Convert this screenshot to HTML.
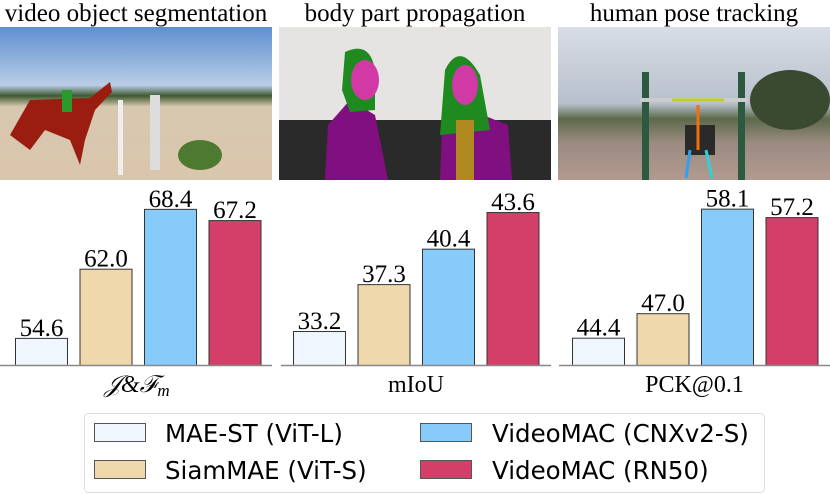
<!DOCTYPE html>
<html><head><meta charset="utf-8"><style>
body{margin:0;background:#fff;}
svg{display:block;font-family:"Liberation Serif",serif;}
</style></head><body>
<svg width="830" height="494" viewBox="0 0 830 494">
<defs>
<linearGradient id="g1" x1="0" y1="0" x2="0" y2="1"><stop offset="0" stop-color="#5f8fd0"/><stop offset="0.38" stop-color="#b9cde6"/><stop offset="0.45" stop-color="#3d5a32"/><stop offset="0.52" stop-color="#d8c8b0"/><stop offset="1" stop-color="#d9c6ac"/></linearGradient>
<linearGradient id="g3" x1="0" y1="0" x2="0" y2="1"><stop offset="0" stop-color="#d8dde6"/><stop offset="0.5" stop-color="#b8c0cc"/><stop offset="0.6" stop-color="#5c6a4a"/><stop offset="0.75" stop-color="#9a8a80"/><stop offset="1" stop-color="#b29a90"/></linearGradient>
</defs>
<g font-size="25" text-anchor="middle" fill="#000">
<text x="136" y="21">video object segmentation</text>
<text x="415" y="21">body part propagation</text>
<text x="694" y="21">human pose tracking</text>
</g>
<g>
<rect x="0" y="27" width="272" height="153" fill="url(#g1)"/>
<path d="M10 135 L30 100 L90 98 L110 82 L112 92 L95 110 L85 140 L80 165 L70 140 L45 130 L30 150 Z" fill="#9a1d10"/>
<rect x="62" y="90" width="10" height="22" fill="#2a9a2a"/>
<rect x="118" y="100" width="5" height="75" fill="#eee"/><rect x="150" y="95" width="10" height="75" fill="#ddd"/>
<ellipse cx="200" cy="155" rx="22" ry="15" fill="#4d7a30"/>
</g>
<g>
<rect x="279" y="27" width="272" height="153" fill="#e6e4e2"/>
<rect x="279" y="120" width="272" height="60" fill="#2a2a2a"/>
<path d="M325 180 L328 125 L350 100 L375 115 L388 180 Z" fill="#800f80"/>
<path d="M345 52 Q370 40 375 70 L375 110 L350 112 L342 90 Z" fill="#1f8a1f"/>
<ellipse cx="365" cy="80" rx="14" ry="20" fill="#d13aa5"/>
<path d="M440 180 L442 125 L470 110 L508 125 L512 180 Z" fill="#800f80"/>
<path d="M445 70 Q460 40 480 75 L490 130 L440 135 Z" fill="#1f8a1f"/>
<ellipse cx="465" cy="85" rx="13" ry="20" fill="#d13aa5"/>
<rect x="456" y="120" width="18" height="60" fill="#b08a20"/>
</g>
<g>
<rect x="558" y="27" width="272" height="153" fill="url(#g3)"/>
<rect x="642" y="72" width="7" height="108" fill="#2c5a40"/><rect x="738" y="72" width="7" height="108" fill="#2c5a40"/>
<rect x="640" y="98" width="108" height="4" fill="#ccc"/>
<ellipse cx="790" cy="100" rx="40" ry="30" fill="#3a4a30"/>
<rect x="685" y="125" width="30" height="30" fill="#2a2a2a"/>
<line x1="698" y1="105" x2="698" y2="150" stroke="#f07010" stroke-width="3"/>
<line x1="672" y1="100" x2="724" y2="100" stroke="#c0d020" stroke-width="3"/>
<line x1="690" y1="150" x2="686" y2="178" stroke="#30a0f0" stroke-width="3"/>
<line x1="706" y1="150" x2="712" y2="178" stroke="#30d0d0" stroke-width="3"/>
</g>
<g id="charts"></g>
<g>
<rect x="84.5" y="413.5" width="680" height="79" rx="4" fill="#fff" stroke="#ddd"/>
<g font-family="DejaVu Sans, sans-serif" font-size="24.5" fill="#000">
<rect x="94.5" y="423.5" width="51" height="18" fill="#eff6fe" stroke="#555"/>
<text x="165" y="442">MAE-ST (ViT-L)</text>
<rect x="94.5" y="460.5" width="51" height="18" fill="#eed8ac" stroke="#555"/>
<text x="165" y="479">SiamMAE (ViT-S)</text>
<rect x="420.5" y="423.5" width="51" height="18" fill="#87cbfb" stroke="#555"/>
<text x="492" y="442">VideoMAC (CNXv2-S)</text>
<rect x="420.5" y="460.5" width="51" height="18" fill="#d43f6a" stroke="#555"/>
<text x="492" y="479">VideoMAC (RN50)</text>
</g>
</g>
</svg>
<script>
const series = ["MAE-ST (ViT-L)","SiamMAE (ViT-S)","VideoMAC (CNXv2-S)","VideoMAC (RN50)"];
const vosValues = [54.6, 62.0, 68.4, 67.2];
const bodyValues = [33.2, 37.3, 40.4, 43.6];
const poseValues = [44.4, 47.0, 58.1, 57.2];
const metricLabels = ["J&Fm","mIoU","PCK@0.1"];
const colors = ["#eff6fe","#eed8ac","#87cbfb","#d43f6a"];
const NS="http://www.w3.org/2000/svg";
const g=document.getElementById('charts');
const panels=[
 {vals:vosValues, x0:0, x1:272, bx:15, base:51.7, ppu:9.35, name:'vos'},
 {vals:bodyValues, x0:281, x1:551, bx:293, base:30.23, ppu:11.44, name:'body-part'},
 {vals:poseValues, x0:559, x1:830, bx:572, base:41.5, ppu:9.42, name:'pose'}
];
const baseY=365, step=64.5, bw=52;
panels.forEach((p,pi)=>{
  const y=v=>baseY-(v-p.base)*p.ppu;
  p.vals.forEach((v,i)=>{
    const x=p.bx+i*step, top=y(v);
    const r=document.createElementNS(NS,'rect');
    r.setAttribute('x',x+0.5);r.setAttribute('y',top+0.5);
    r.setAttribute('width',bw);r.setAttribute('height',baseY-top);
    r.setAttribute('fill',colors[i]);r.setAttribute('stroke','#333');r.setAttribute('stroke-width','1');
    
    
    g.appendChild(r);
    const t=document.createElementNS(NS,'text');
    t.setAttribute('x',x+bw/2+0.5);t.setAttribute('y',top-2);
    t.setAttribute('text-anchor','middle');t.setAttribute('font-size','25');
    t.textContent=v.toFixed(1);
    
    
    g.appendChild(t);
  });
  const l=document.createElementNS(NS,'line');
  l.setAttribute('x1',p.x0);l.setAttribute('x2',p.x1);l.setAttribute('y1',baseY+0.5);l.setAttribute('y2',baseY+0.5);
  l.setAttribute('stroke','#888');l.setAttribute('stroke-width','1.5');
  
  
  g.appendChild(l);
  const t=document.createElementNS(NS,'text');
  t.setAttribute('x',(p.x0+p.x1)/2+(pi==0?1:0));t.setAttribute('y',392);
  t.setAttribute('text-anchor','middle');t.setAttribute('font-size','24');
  if(pi==0){
    t.setAttribute('font-style','italic');
    t.innerHTML='𝒥&amp;ℱ<tspan font-size="17" dy="4">m</tspan>';
  } else t.textContent=metricLabels[pi];
  
  
  g.appendChild(t);
});
</script>
</body></html>
